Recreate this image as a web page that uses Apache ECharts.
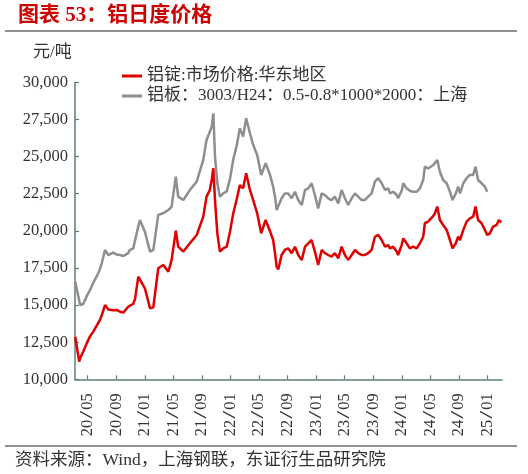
<!DOCTYPE html>
<html>
<head>
<meta charset="utf-8">
<script src="https://cdn.jsdelivr.net/npm/echarts@6/dist/echarts.min.js"></script>
<style>
html,body{margin:0;padding:0;background:#fff;}
#chart{width:528px;height:474px;}
</style>
</head>
<body>
<div id="chart"></div>
<script>
// ---- data ----
const dates = [
'2020-03-09','2020-03-26','2020-03-30','2020-04-12','2020-04-27','2020-05-11','2020-05-25','2020-06-08','2020-06-22','2020-06-30',
'2020-07-14','2020-07-28','2020-08-04','2020-08-18','2020-09-02','2020-09-16','2020-09-30','2020-10-07','2020-10-21','2020-10-28',
'2020-11-11','2020-11-19','2020-12-03','2020-12-10','2020-12-31','2021-01-22','2021-02-05','2021-02-26','2021-03-19','2021-04-10',
'2021-04-24','2021-05-12','2021-05-22','2021-06-13','2021-07-11','2021-08-09','2021-09-06','2021-09-20','2021-10-04','2021-10-12',
'2021-10-19','2021-10-26','2021-11-05','2021-11-16','2021-11-30','2021-12-15','2021-12-29','2022-01-12','2022-01-26','2022-02-09',
'2022-02-23','2022-03-08','2022-03-24','2022-04-07','2022-04-24','2022-05-11','2022-05-30','2022-06-17','2022-07-01','2022-07-09',
'2022-07-16','2022-07-23','2022-08-06','2022-08-20','2022-09-03','2022-09-18','2022-10-02','2022-10-16','2022-10-31','2022-11-14',
'2022-11-28','2022-12-12','2022-12-26','2023-01-09','2023-01-24','2023-02-07','2023-02-21','2023-03-07','2023-03-21','2023-04-05',
'2023-04-19','2023-05-03','2023-05-17','2023-06-01','2023-06-15','2023-06-29','2023-07-13','2023-07-27','2023-08-10','2023-08-25',
'2023-09-08','2023-09-22','2023-10-07','2023-10-21','2023-11-04','2023-11-11','2023-11-25','2023-12-10','2023-12-16','2023-12-31',
'2024-01-07','2024-01-21','2024-02-04','2024-02-18','2024-03-04','2024-03-18','2024-04-01','2024-04-08','2024-04-22','2024-04-30',
'2024-05-14','2024-05-21','2024-05-31','2024-06-11','2024-06-25','2024-07-10','2024-07-24','2024-08-04','2024-08-18','2024-08-28',
'2024-09-05','2024-09-19','2024-10-03','2024-10-17','2024-10-31','2024-11-10','2024-11-21','2024-12-06','2024-12-20','2024-12-30',
'2025-01-10','2025-01-24','2025-02-08','2025-02-18','2025-02-28'
];
// 铝锭:市场价格:华东地区 (元/吨)
const ingotPrice = [
12870,11190,11440,11860,12420,12900,13210,13600,13990,14300,
15000,14700,14780,14650,14670,14550,14490,14600,14890,14950,
15070,15400,16910,16900,16130,14780,14850,17475,17700,17250,
18030,20000,18930,18600,19160,19720,20950,22300,22750,23420,
24210,22070,19830,18600,18820,18930,19940,21180,22070,23080,
22860,23870,22750,22070,21180,19830,20730,20000,19380,18490,
17580,17400,18370,18710,18820,18490,18930,18370,18040,18930,
19160,19380,18600,17700,18710,18490,18370,18260,18490,18150,
18930,18370,18040,18370,18710,18490,18370,18370,18490,18710,
19600,19720,19380,18930,19040,18820,18930,18600,18370,19040,
19490,19160,18820,18930,18820,19160,19600,20510,20620,20730,
21000,21180,21630,20730,20390,20060,19380,18820,19160,19600,
19380,20060,20620,20840,20950,21630,20730,20510,20060,19720,
19830,20280,20390,20730,20550
];
// 铝板：3003/H24：0.5-0.8*1000*2000：上海 (元/吨)
const platePrice = [
16570,15300,15000,15070,15600,16010,16500,16910,17400,17810,
18710,18370,18450,18530,18400,18370,18300,18260,18500,18710,
18800,18930,20300,20730,19940,18600,18710,21070,21180,21400,
21630,23650,22300,22070,22750,23310,24770,26120,26680,27000,
27910,24990,23200,22300,22520,22650,23500,24800,25700,26900,
26340,27580,26570,25780,25100,23760,24550,23800,22970,22300,
21400,21290,22190,22520,22520,22190,22630,22070,21740,22750,
22860,23200,22410,21510,22520,22410,22190,22070,22300,21850,
22750,22190,21740,22190,22520,22300,22070,22070,22300,22520,
23310,23540,23200,22750,22860,22520,22630,22410,22190,22700,
23200,22860,22700,22630,22630,22860,23420,24320,24200,24090,
24430,24500,24770,23980,23420,23200,22630,22070,22520,22970,
22520,23200,23540,23760,23760,24320,23420,23200,22970,22630,
null,null,null,null,null
];
const tickDates = ['2020-05-01','2020-09-01','2021-01-01','2021-05-01','2021-09-01','2022-01-01','2022-05-01','2022-09-01','2023-01-01','2023-05-01','2023-09-01','2024-01-01','2024-05-01','2024-09-01','2025-01-01'];
const axisStart = '2020-03-08';
const axisEnd = '2025-03-03';
const seriesNames = ['铝锭:市场价格:华东地区', '铝板：3003/H24：0.5-0.8*1000*2000：上海'];

// ---- build ----
function toTime(s){ const p = s.split('-').map(Number); return Date.UTC(p[0], p[1]-1, p[2]); }
function pairs(vals){ const out=[]; for(let i=0;i<dates.length;i++){ if(vals[i]!=null) out.push([toTime(dates[i]), vals[i]]); } return out; }
const tickValues = tickDates.map(toTime);
const serif = '"Liberation Serif", "Noto Sans CJK SC", serif';
const axisColor = '#5E7D7B';

const chart = echarts.init(document.getElementById('chart'), null, {renderer:'canvas'});
chart.setOption({
  animation:false,
  backgroundColor:'#fff',
  grid:{left:75, right:26, top:82.3, bottom:94.7, containLabel:false},
  legend:{
    orient:'vertical', left:117, top:62, itemGap:2, itemWidth:20, itemHeight:3,
    icon:'rect',
    textStyle:{fontFamily:serif, fontSize:17, color:'#333', lineHeight:18},
    data:[{name:seriesNames[0]},{name:seriesNames[1]}]
  },
  xAxis:{
    type:'value', min:toTime(axisStart), max:toTime(axisEnd),
    axisLine:{show:true, onZero:false, lineStyle:{color:axisColor, width:1.5}},
    axisTick:{show:true, inside:true, length:4, customValues:tickValues, lineStyle:{color:axisColor, width:1.2}},
    splitLine:{show:false},
    axisLabel:{
      customValues:tickValues, rotate:90, margin:14, color:'#333',
      formatter:function(v){ const d=new Date(v); const yy=String(d.getUTCFullYear()).slice(2); const mm=String(d.getUTCMonth()+1).padStart(2,'0'); return '{n|'+yy+'}{s|/}{n|'+mm+'}'; },
      rich:{ n:{fontFamily:'"Liberation Serif", serif', fontSize:16.5, color:'#333'}, s:{fontFamily:'"Liberation Mono", monospace', fontSize:16.5, color:'#333'} }
    }
  },
  yAxis:{
    type:'value', min:10000, max:30000, interval:2500,
    axisLine:{show:true, lineStyle:{color:axisColor, width:1.5}},
    axisTick:{show:true, inside:true, length:4, lineStyle:{color:axisColor, width:1.2}},
    splitLine:{show:false},
    axisLabel:{ margin:7, color:'#333', fontFamily:'"Liberation Serif", serif', fontSize:16.5,
      formatter:function(v){ return v.toLocaleString('en-US'); } }
  },
  series:[
    {name:seriesNames[0], type:'line', data:pairs(ingotPrice), showSymbol:false, symbol:'none', color:'#E00000', lineStyle:{width:2.5, color:'#E00000'}, z:3},
    {name:seriesNames[1], type:'line', data:pairs(platePrice), showSymbol:false, symbol:'none', color:'#8E8E8E', lineStyle:{width:2.5, color:'#8E8E8E'}, z:2}
  ],
  graphic:[
    {type:'text', left:18, top:5, style:{text:'图表 53：铝日度价格', fontFamily:serif, fontSize:21, fontWeight:'bold', fill:'#CC0000'}},
    {type:'line', shape:{x1:5, y1:31, x2:517, y2:31}, style:{stroke:'#222', lineWidth:1}},
    {type:'text', left:33, top:44, style:{text:'元/吨', fontFamily:serif, fontSize:17, fill:'#333'}},
    {type:'line', shape:{x1:5, y1:446, x2:517, y2:446}, style:{stroke:'#222', lineWidth:1}},
    {type:'text', left:15, top:452, style:{text:'资料来源：Wind，上海钢联，东证衍生品研究院', fontFamily:serif, fontSize:17.5, fill:'#333'}}
  ]
});
</script>
</body>
</html>
